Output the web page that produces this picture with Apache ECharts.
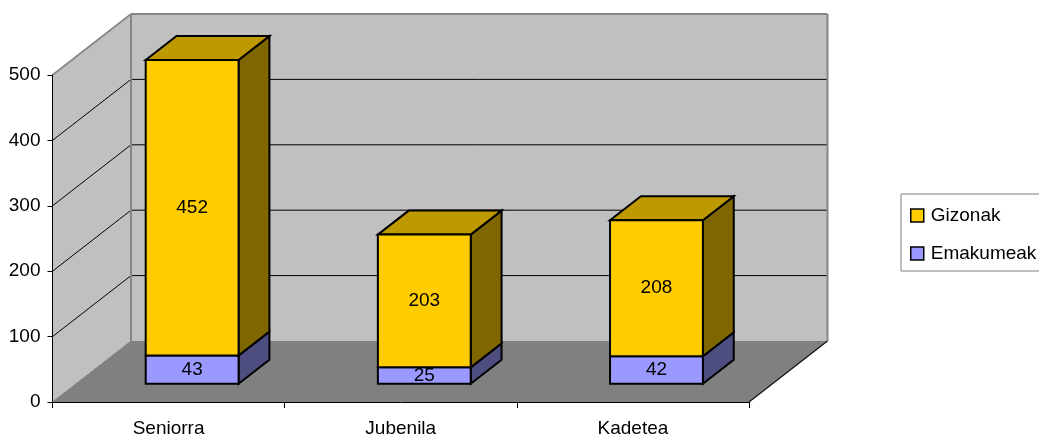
<!DOCTYPE html>
<html><head><meta charset="utf-8">
<style>html,body{margin:0;padding:0;background:#fff}#c{width:1039px;height:440px}</style>
<script src="https://cdn.jsdelivr.net/npm/echarts@6/dist/echarts.min.js"></script>
</head><body><div id="c"></div>
<script>
const categories = ['Seniorra', 'Jubenila', 'Kadetea'];
const emakumeak = [43, 25, 42];
const gizonak = [452, 203, 208];
const yTicks = [100, 200, 300, 400, 500];
const depthX = 78.5, depthY = -61, barNear = 0.3, barFar = 0.693, barShare = 0.4;
const FONT = '"Liberation Sans",Arial,sans-serif';
const FS = 19;
const chart = echarts.init(document.getElementById('c'), null, {renderer: 'canvas'});

function poly(points, fill, stroke, lw) {
  return {type: 'polygon', shape: {points}, style: {fill, stroke: stroke || null, lineWidth: lw || 0, lineJoin: 'miter'}};
}
function seg(a, b, stroke, lw) {
  return {type: 'line', shape: {x1: a[0], y1: a[1], x2: b[0], y2: b[1]}, style: {stroke, lineWidth: lw}};
}
function renderWalls(params, api) {
  const cs = params.coordSys;
  const L = cs.x, R = cs.x + cs.width;
  const y0 = api.coord([0, 0])[1], yT = api.coord([0, 500])[1];
  const k = [];
  k.push(poly([[L, y0], [R, y0], [R + depthX, y0 + depthY], [L + depthX, y0 + depthY]], '#808080'));
  k.push(poly([[L, y0], [L + depthX, y0 + depthY], [L + depthX, yT + depthY], [L, yT]], '#c0c0c0'));
  k.push(poly([[L + depthX, y0 + depthY], [R + depthX, y0 + depthY], [R + depthX, yT + depthY], [L + depthX, yT + depthY]], '#c0c0c0'));
  yTicks.forEach(function (v) {
    const y = api.coord([0, v])[1];
    if (v < 500) {
      k.push(seg([L, y], [L + depthX, y + depthY], '#000', 1));
      k.push(seg([L + depthX, y + depthY], [R + depthX, y + depthY], '#000', 1));
    }
  });
  const g = '#868686';
  k.push(seg([L, yT], [L + depthX, yT + depthY], g, 1.6));
  k.push(seg([L + depthX, yT + depthY], [R + depthX, yT + depthY], g, 2));
  k.push(seg([L + depthX, yT + depthY], [L + depthX, y0 + depthY], g, 2));
  k.push(seg([R + depthX, yT + depthY], [R + depthX, y0 + depthY], g, 2));
  k.push(seg([L, y0], [L + depthX, y0 + depthY], '#808080', 1));
  k.push(seg([R, y0], [R + depthX, y0 + depthY], '#111', 1.2));
  return {type: 'group', children: k};
}
function shade(front, top, side, isTop) {
  return function (params, api) {
    const idx = api.value(0), base = api.value(1), val = api.value(2);
    const c0 = api.coord([idx, base]), c1 = api.coord([idx, base + val]);
    const w = api.size([1, 0])[0] * barShare;
    const nx = depthX * barNear, ny = depthY * barNear;
    const fx = depthX * barFar, fy = depthY * barFar;
    const x0 = c0[0] - w / 2 + nx, x1 = c0[0] + w / 2 + nx;
    const yb = c0[1] + ny, yt = c1[1] + ny;
    const ddx = fx - nx, ddy = fy - ny;
    const k = [];
    const S = '#000', lw = 2;
    k.push(poly([[x1, yb], [x1 + ddx, yb + ddy], [x1 + ddx, yt + ddy], [x1, yt]], side, S, lw));
    if (isTop) k.push(poly([[x0, yt], [x1, yt], [x1 + ddx, yt + ddy], [x0 + ddx, yt + ddy]], top, S, lw));
    k.push(poly([[x0, yb], [x1, yb], [x1, yt], [x0, yt]], front, S, lw));
    k.push({type: 'text', style: {text: String(val), x: (x0 + x1) / 2, y: (yb + yt) / 2, align: 'center', verticalAlign: 'middle', font: FS + 'px ' + FONT, fill: '#000'}});
    return {type: 'group', children: k};
  };
}
const emaData = categories.map((c, i) => [i, 0, emakumeak[i]]);
const gizData = categories.map((c, i) => [i, emakumeak[i], gizonak[i]]);
chart.setOption({
  animation: false,
  backgroundColor: '#fff',
  grid: {left: 52.5, right: 290, top: 75, bottom: 38, containLabel: false},
  legend: {
    left: 901, top: 194, orient: 'vertical', padding: [12, 30, 8, 9], itemGap: 19,
    backgroundColor: '#fff', borderColor: '#808080', borderWidth: 1,
    itemWidth: 13, itemHeight: 13,
    textStyle: {fontFamily: FONT, fontSize: FS, color: '#000', padding: [0, 0, 0, 2]},
    data: [
      {name: 'Gizonak', icon: 'rect', itemStyle: {color: '#ffcc00', borderColor: '#000', borderWidth: 1.5}},
      {name: 'Emakumeak', icon: 'rect', itemStyle: {color: '#9999ff', borderColor: '#000', borderWidth: 1.5}}
    ]
  },
  xAxis: {
    type: 'category', data: categories, z: 6,
    axisLine: {lineStyle: {color: '#000', width: 1}},
    axisTick: {show: true, length: 6, lineStyle: {color: '#000'}, alignWithLabel: false},
    axisLabel: {fontFamily: FONT, fontSize: FS, color: '#000', margin: 17}
  },
  yAxis: {
    type: 'value', min: 0, max: 500, interval: 100, z: 6,
    axisLine: {show: true, lineStyle: {color: '#000', width: 1}},
    axisTick: {show: true, length: 5, lineStyle: {color: '#000'}},
    splitLine: {show: false},
    axisLabel: {fontFamily: FONT, fontSize: FS, color: '#000', margin: 12}
  },
  series: [
    {name: 'walls', type: 'custom', renderItem: renderWalls, data: [[0]], clip: false, z: 1, silent: true, encode: {x: 0}},
    {name: 'Emakumeak', type: 'custom', renderItem: shade('#9999ff', '#7373bf', '#4d4d80', false), data: emaData, clip: false, z: 2, encode: {x: 0, y: 2}, itemStyle: {color: '#9999ff'}},
    {name: 'Gizonak', type: 'custom', renderItem: shade('#ffcc00', '#bf9900', '#806600', true), data: gizData, clip: false, z: 3, encode: {x: 0, y: 2}, itemStyle: {color: '#ffcc00'}}
  ]
});
</script></body></html>
